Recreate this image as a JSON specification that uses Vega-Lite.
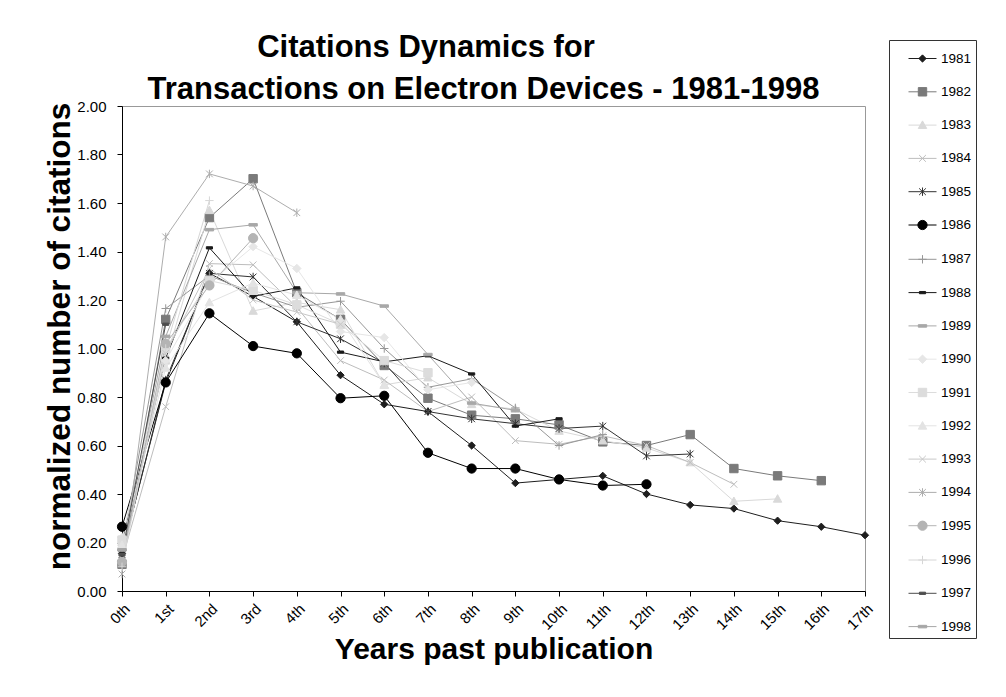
{
  "$schema": "https://vega.github.io/schema/vega-lite/v6.json",
  "width": 743,
  "height": 485,
  "autosize": {"type": "none"},
  "padding": {"left": 122, "top": 106, "right": 141, "bottom": 106},
  "background": "white",
  "title": {
    "text": ["Citations Dynamics for\u2800\u2800\u2800\u2800\u2800", "Transactions on Electron Devices - 1981-1998"],
    "fontSize": 31,
    "fontWeight": "bold",
    "font": "Liberation Sans",
    "color": "#000000",
    "anchor": "middle",
    "dx": -10,
    "dy": 72,
    "offset": 6,
    "lineHeight": 42
  },
  "data": {
    "values": [
      {"year":"1981","n":0,"v":0.155},{"year":"1981","n":1,"v":0.86},{"year":"1981","n":2,"v":1.31},{"year":"1981","n":3,"v":1.215},{"year":"1981","n":4,"v":1.11},{"year":"1981","n":5,"v":0.89},{"year":"1981","n":6,"v":0.77},{"year":"1981","n":7,"v":0.74},{"year":"1981","n":8,"v":0.6},{"year":"1981","n":9,"v":0.445},{"year":"1981","n":10,"v":0.46},{"year":"1981","n":11,"v":0.475},{"year":"1981","n":12,"v":0.4},{"year":"1981","n":13,"v":0.355},{"year":"1981","n":14,"v":0.34},{"year":"1981","n":15,"v":0.29},{"year":"1981","n":16,"v":0.265},{"year":"1981","n":17,"v":0.23},
      {"year":"1982","n":0,"v":0.11},{"year":"1982","n":1,"v":1.12},{"year":"1982","n":2,"v":1.54},{"year":"1982","n":3,"v":1.7},{"year":"1982","n":4,"v":1.23},{"year":"1982","n":5,"v":1.12},{"year":"1982","n":6,"v":0.93},{"year":"1982","n":7,"v":0.795},{"year":"1982","n":8,"v":0.725},{"year":"1982","n":9,"v":0.71},{"year":"1982","n":10,"v":0.685},{"year":"1982","n":11,"v":0.615},{"year":"1982","n":12,"v":0.6},{"year":"1982","n":13,"v":0.645},{"year":"1982","n":14,"v":0.505},{"year":"1982","n":15,"v":0.475},{"year":"1982","n":16,"v":0.455},
      {"year":"1983","n":0,"v":0.2},{"year":"1983","n":1,"v":0.95},{"year":"1983","n":2,"v":1.57},{"year":"1983","n":3,"v":1.155},{"year":"1983","n":4,"v":1.19},{"year":"1983","n":5,"v":1.16},{"year":"1983","n":6,"v":0.85},{"year":"1983","n":7,"v":0.88},{"year":"1983","n":8,"v":0.77},{"year":"1983","n":9,"v":0.75},{"year":"1983","n":10,"v":0.66},{"year":"1983","n":11,"v":0.62},{"year":"1983","n":12,"v":0.59},{"year":"1983","n":13,"v":0.53},{"year":"1983","n":14,"v":0.37},{"year":"1983","n":15,"v":0.38},
      {"year":"1984","n":0,"v":0.13},{"year":"1984","n":1,"v":0.76},{"year":"1984","n":2,"v":1.35},{"year":"1984","n":3,"v":1.345},{"year":"1984","n":4,"v":1.17},{"year":"1984","n":5,"v":0.95},{"year":"1984","n":6,"v":0.87},{"year":"1984","n":7,"v":0.74},{"year":"1984","n":8,"v":0.8},{"year":"1984","n":9,"v":0.62},{"year":"1984","n":10,"v":0.605},{"year":"1984","n":11,"v":0.64},{"year":"1984","n":12,"v":0.6},{"year":"1984","n":13,"v":0.53},{"year":"1984","n":14,"v":0.44},
      {"year":"1985","n":0,"v":0.15},{"year":"1985","n":1,"v":0.87},{"year":"1985","n":2,"v":1.31},{"year":"1985","n":3,"v":1.295},{"year":"1985","n":4,"v":1.11},{"year":"1985","n":5,"v":1.04},{"year":"1985","n":6,"v":0.94},{"year":"1985","n":7,"v":0.74},{"year":"1985","n":8,"v":0.71},{"year":"1985","n":9,"v":0.69},{"year":"1985","n":10,"v":0.67},{"year":"1985","n":11,"v":0.68},{"year":"1985","n":12,"v":0.557},{"year":"1985","n":13,"v":0.565},
      {"year":"1986","n":0,"v":0.265},{"year":"1986","n":1,"v":0.86},{"year":"1986","n":2,"v":1.145},{"year":"1986","n":3,"v":1.01},{"year":"1986","n":4,"v":0.98},{"year":"1986","n":5,"v":0.795},{"year":"1986","n":6,"v":0.805},{"year":"1986","n":7,"v":0.57},{"year":"1986","n":8,"v":0.505},{"year":"1986","n":9,"v":0.505},{"year":"1986","n":10,"v":0.46},{"year":"1986","n":11,"v":0.435},{"year":"1986","n":12,"v":0.44},
      {"year":"1987","n":0,"v":0.18},{"year":"1987","n":1,"v":1.165},{"year":"1987","n":2,"v":1.3},{"year":"1987","n":3,"v":1.23},{"year":"1987","n":4,"v":1.17},{"year":"1987","n":5,"v":1.195},{"year":"1987","n":6,"v":1.0},{"year":"1987","n":7,"v":0.84},{"year":"1987","n":8,"v":0.875},{"year":"1987","n":9,"v":0.755},{"year":"1987","n":10,"v":0.6},{"year":"1987","n":11,"v":0.645},
      {"year":"1988","n":0,"v":0.2},{"year":"1988","n":1,"v":0.96},{"year":"1988","n":2,"v":1.415},{"year":"1988","n":3,"v":1.215},{"year":"1988","n":4,"v":1.25},{"year":"1988","n":5,"v":0.985},{"year":"1988","n":6,"v":0.945},{"year":"1988","n":7,"v":0.97},{"year":"1988","n":8,"v":0.895},{"year":"1988","n":9,"v":0.68},{"year":"1988","n":10,"v":0.71},
      {"year":"1989","n":0,"v":0.17},{"year":"1989","n":1,"v":1.05},{"year":"1989","n":2,"v":1.49},{"year":"1989","n":3,"v":1.51},{"year":"1989","n":4,"v":1.23},{"year":"1989","n":5,"v":1.225},{"year":"1989","n":6,"v":1.175},{"year":"1989","n":7,"v":0.975},{"year":"1989","n":8,"v":0.775},{"year":"1989","n":9,"v":0.745},
      {"year":"1990","n":0,"v":0.22},{"year":"1990","n":1,"v":0.95},{"year":"1990","n":2,"v":1.27},{"year":"1990","n":3,"v":1.42},{"year":"1990","n":4,"v":1.33},{"year":"1990","n":5,"v":1.07},{"year":"1990","n":6,"v":1.045},{"year":"1990","n":7,"v":0.83},{"year":"1990","n":8,"v":0.86},
      {"year":"1991","n":0,"v":0.21},{"year":"1991","n":1,"v":1.0},{"year":"1991","n":2,"v":1.28},{"year":"1991","n":3,"v":1.24},{"year":"1991","n":4,"v":1.18},{"year":"1991","n":5,"v":1.1},{"year":"1991","n":6,"v":0.95},{"year":"1991","n":7,"v":0.9},
      {"year":"1992","n":0,"v":0.19},{"year":"1992","n":1,"v":0.92},{"year":"1992","n":2,"v":1.19},{"year":"1992","n":3,"v":1.27},{"year":"1992","n":4,"v":1.22},{"year":"1992","n":5,"v":1.12},{"year":"1992","n":6,"v":0.85},
      {"year":"1993","n":0,"v":0.12},{"year":"1993","n":1,"v":0.98},{"year":"1993","n":2,"v":1.33},{"year":"1993","n":3,"v":1.2},{"year":"1993","n":4,"v":1.15},{"year":"1993","n":5,"v":1.1},
      {"year":"1994","n":0,"v":0.07},{"year":"1994","n":1,"v":1.46},{"year":"1994","n":2,"v":1.72},{"year":"1994","n":3,"v":1.67},{"year":"1994","n":4,"v":1.56},
      {"year":"1995","n":0,"v":0.12},{"year":"1995","n":1,"v":1.02},{"year":"1995","n":2,"v":1.26},{"year":"1995","n":3,"v":1.455},
      {"year":"1996","n":0,"v":0.1},{"year":"1996","n":1,"v":1.0},{"year":"1996","n":2,"v":1.61},
      {"year":"1997","n":0,"v":0.15},{"year":"1997","n":1,"v":1.1},
      {"year":"1998","n":0,"v":0.17}
    ]
  },
  "encoding": {
    "x": {
      "field": "n",
      "type": "quantitative",
      "scale": {"domain": [0, 17], "nice": false, "zero": false},
      "axis": {
        "values": [0,1,2,3,4,5,6,7,8,9,10,11,12,13,14,15,16,17],
        "labelExpr": "datum.value == 1 ? '1st' : datum.value == 2 ? '2nd' : datum.value == 3 ? '3rd' : datum.value + 'th'",
        "labelAngle": -45,
        "labelOverlap": false,
        "title": "Years past publication",
        "titleFontSize": 30
      }
    },
    "y": {
      "field": "v",
      "type": "quantitative",
      "scale": {"domain": [0, 2], "nice": false},
      "axis": {
        "values": [0,0.2,0.4,0.6,0.8,1.0,1.2,1.4,1.6,1.8,2.0],
        "format": ".2f",
        "labelOverlap": false,
        "title": "normalized number of citations",
        "titleFontSize": 31.5,
        "titleY": 230
      }
    }
  },
  "layer": [
    {
      "mark": {"type": "line", "strokeWidth": 1},
      "encoding": {
        "color": {
          "field": "year",
          "type": "nominal",
          "scale": {
            "domain": ["1981","1982","1983","1984","1985","1986","1987","1988","1989","1990","1991","1992","1993","1994","1995","1996","1997","1998"],
            "range": ["#1e1e1e","#7a7a7a","#d9d9d9","#bdbdbd","#333333","#000000","#979797","#1a1a1a","#a8a8a8","#e6e6e6","#dcdcdc","#e3e3e3","#c8c8c8","#adadad","#b4b4b4","#d6d6d6","#4d4d4d","#a6a6a6"]
          },
          "legend": {
            "title": null,
            "orient": "none",
            "legendX": 767,
            "legendY": -66,
            "padding": 4,
            "symbolOffset": 15,
            "symbolSize": 784,
            "symbolStrokeWidth": 1,
            "rowPadding": 12.3,
            "labelOffset": 4,
            "labelFontSize": 13.5,
            "labelFont": "Liberation Sans",
            "labelColor": "#000000",
            "strokeColor": "#333333",
            "fillColor": "#ffffff",
            "encode": {
              "symbols": {
                "update": {
                  "shape": {"signal": "'M-1,0L1,0' + scale('shape', datum.value)"},
                  "fill": {"scale": "color", "field": "value"},
                  "stroke": {"scale": "color", "field": "value"},
                  "strokeWidth": {"value": 1},
                  "size": {"value": 784},
                  "opacity": {"value": 1}
                }
              }
            }
          }
        }
      }
    },
    {
      "mark": {"type": "point", "size": 784, "opacity": 1, "strokeWidth": 1, "filled": false},
      "encoding": {
        "stroke": {
          "field": "year",
          "type": "nominal",
          "scale": {
            "domain": ["1981","1982","1983","1984","1985","1986","1987","1988","1989","1990","1991","1992","1993","1994","1995","1996","1997","1998"],
            "range": ["#1e1e1e","#7a7a7a","#d9d9d9","#bdbdbd","#333333","#000000","#979797","#1a1a1a","#a8a8a8","#e6e6e6","#dcdcdc","#e3e3e3","#c8c8c8","#adadad","#b4b4b4","#d6d6d6","#4d4d4d","#a6a6a6"]
          },
          "legend": null
        },
        "fill": {
          "field": "year",
          "type": "nominal",
          "scale": {
            "domain": ["1981","1982","1983","1984","1985","1986","1987","1988","1989","1990","1991","1992","1993","1994","1995","1996","1997","1998"],
            "range": ["#1e1e1e","#7a7a7a","#d9d9d9","#bdbdbd","#333333","#000000","#979797","#1a1a1a","#a8a8a8","#e6e6e6","#dcdcdc","#e3e3e3","#c8c8c8","#adadad","#b4b4b4","#d6d6d6","#4d4d4d","#a6a6a6"]
          },
          "legend": null
        },
        "shape": {
          "field": "year",
          "type": "nominal",
          "scale": {
            "range": [
              "M0,-0.26L0.26,0L0,0.26L-0.26,0Z",
              "M-0.3,-0.3L0.3,-0.3L0.3,0.3L-0.3,0.3Z",
              "M0,-0.3L0.3,0.24L-0.3,0.24Z",
              "M-0.24,-0.24L0.24,0.24M-0.24,0.24L0.24,-0.24",
              "M-0.24,-0.24L0.24,0.24M-0.24,0.24L0.24,-0.24M0,-0.3L0,0.3",
              "M-0.33,0A0.33,0.33,0,1,0,0.33,0A0.33,0.33,0,1,0,-0.33,0Z",
              "M-0.3,0L0.3,0M0,-0.3L0,0.3",
              "M-0.22,-0.08L0.22,-0.08L0.22,0.08L-0.22,0.08Z",
              "M-0.3,-0.09L0.3,-0.09L0.3,0.09L-0.3,0.09Z",
              "M0,-0.3L0.3,0L0,0.3L-0.3,0Z",
              "M-0.3,-0.3L0.3,-0.3L0.3,0.3L-0.3,0.3Z",
              "M0,-0.3L0.3,0.24L-0.3,0.24Z",
              "M-0.24,-0.24L0.24,0.24M-0.24,0.24L0.24,-0.24",
              "M-0.24,-0.24L0.24,0.24M-0.24,0.24L0.24,-0.24M0,-0.3L0,0.3",
              "M-0.33,0A0.33,0.33,0,1,0,0.33,0A0.33,0.33,0,1,0,-0.33,0Z",
              "M-0.3,0L0.3,0M0,-0.3L0,0.3",
              "M-0.22,-0.08L0.22,-0.08L0.22,0.08L-0.22,0.08Z",
              "M-0.3,-0.09L0.3,-0.09L0.3,0.09L-0.3,0.09Z"
            ]
          },
          "legend": null
        }
      }
    }
  ],
  "config": {
    "font": "Liberation Sans",
    "view": {"stroke": "#999999", "strokeWidth": 1},
    "axis": {
      "domainColor": "#000000",
      "tickColor": "#000000",
      "labelColor": "#000000",
      "titleColor": "#000000",
      "labelFont": "Liberation Sans",
      "titleFont": "Liberation Sans",
      "labelFontSize": 15,
      "titleFontSize": 31,
      "titleFontWeight": "bold",
      "tickSize": 5,
      "grid": false,
      "domainWidth": 1,
      "tickWidth": 1
    },
    "axisY": {"labelPadding": 11, "titlePadding": 0},
    "axisX": {"labelPadding": 5, "titlePadding": 2}
  }
}
